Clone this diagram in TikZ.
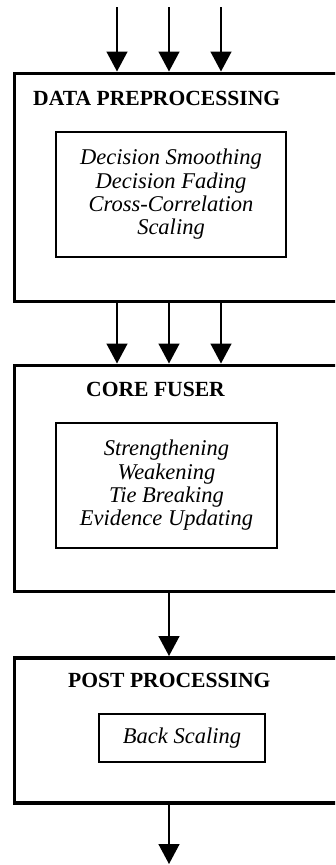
\documentclass[tikz,border=0pt]{standalone}
\usepackage{fontspec}
\setmainfont{Liberation Serif}
\usetikzlibrary{arrows.meta}
\tikzset{
    stage/.style={draw, line width=3.5pt, anchor=north west, minimum width=340pt},
    stagetitle/.style={anchor=base west, inner sep=0pt, font=\fontsize{21.6}{24}\selectfont\bfseries},
    methods/.style={draw, line width=1.4pt, align=center, font=\fontsize{22.5}{23.3}\selectfont\itshape},
    flow/.style={line width=1.5pt, -{Triangle[width=21pt,length=20pt]}}
}
\begin{document}
\begin{tikzpicture}[x=1pt,y=-1pt]
        \useasboundingbox (0,0) rectangle (335,865);
        \clip (0,0) rectangle (335,865);
        % stages
        \node[stage, minimum height=228pt] (pre) at (12.5,71.5) {};
        \node[stage, minimum height=226pt] (core) at (12.5,363.5) {};
        \node[stage, minimum height=145pt] (post) at (12.5,656) {};
        \node[stagetitle] (pretitle) at (33,105) {DATA PREPROCESSING};
        \node[stagetitle] (coretitle) at (86,396) {CORE FUSER};
        \node[stagetitle] (posttitle) at (68,687) {POST PROCESSING};
        \node[methods, minimum width=230pt, minimum height=125pt] (premeth) at (171,194.5)
            {Decision Smoothing\\Decision Fading\\Cross-Correlation\\Scaling};
        \node[methods, minimum width=221pt, minimum height=125pt] (coremeth) at (166.5,485.5)
            {Strengthening\\Weakening\\Tie Breaking\\Evidence Updating};
        \node[methods, minimum width=166pt, minimum height=48pt] (postmeth) at (182,738)
            {Back Scaling};
        % connectors
        \coordinate (in1) at (117,7);
        \coordinate (in2) at (169,7);
        \coordinate (in3) at (221,7);
        \coordinate (out) at (169,864);
        \foreach \i in {1,2,3} {
            \draw[flow] (in\i) -- (pre.north -| in\i);
            \draw[flow] (pre.south -| in\i) -- (core.north -| in\i);
        }
        \draw[flow] (core.south -| in2) -- (post.north -| in2);
        \draw[flow] (post.south -| in2) -- (out);
    \end{tikzpicture}
\end{document}
